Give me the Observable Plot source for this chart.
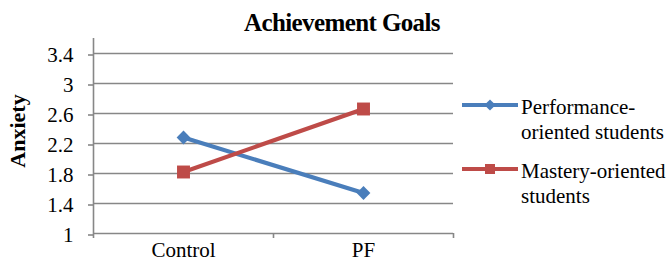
<!DOCTYPE html>
<html>
<head>
<meta charset="utf-8">
<script src="https://cdn.jsdelivr.net/npm/d3@7"></script>
<script src="https://cdn.jsdelivr.net/npm/@observablehq/plot@0.6"></script>
<style>
  html, body { margin: 0; padding: 0; background: #fff; }
  #chart { width: 669px; height: 269px; }
  #chart svg, #chart svg text { font-family: "Liberation Serif", "Times New Roman", serif !important; }
</style>
</head>
<body>
<div id="chart"></div>
<script>
const title = "Achievement Goals";
const yLabel = "Anxiety";
const categories = ["Control", "PF"];
const seriesNames = ["Performance-oriented students", "Mastery-oriented students"];
const legendLines = [["Performance-", "oriented students"], ["Mastery-oriented", "students"]];
const performance = [2.28, 1.54];
const mastery = [1.82, 2.66];
const yTicks = [1, 1.4, 1.8, 2.2, 2.6, 3, 3.4];
const colors = ["#4a7ebb", "#be4b48"];

const seriesValues = [performance, mastery];
const data = [];
seriesNames.forEach((s, k) => categories.forEach((c, i) => data.push({series: s, k, cat: c, i, value: seriesValues[k][i]})));

const grey = "#878787";

const plot = Plot.plot({
  width: 669, height: 269,
  marginTop: 38, marginBottom: 36, marginLeft: 93, marginRight: 216,
  style: {fontFamily: "Liberation Serif", fontSize: "21px", color: "#000", background: "#fff", overflow: "visible"},
  x: {type: "linear", domain: [-0.5, categories.length - 0.5]},
  y: {domain: [1, 3.6]},
  color: {domain: seriesNames, range: colors},
  marks: [
    Plot.ruleY(yTicks, {stroke: grey, strokeWidth: 1.6}),
    Plot.ruleX([-0.5], {stroke: grey, strokeWidth: 1.6}),
    Plot.axisY(yTicks, {tickSize: 5, tickPadding: 15, stroke: grey, strokeWidth: 1.6, fill: "#000", fontSize: 21, tickFormat: d => String(d), label: null, dy: 1.5}),
    Plot.axisX(d3.range(categories.length + 1).map(d => d - 0.5), {tickSize: 5, stroke: grey, strokeWidth: 1.6, tickFormat: () => "", label: null}),
    Plot.axisX(d3.range(categories.length), {tickSize: 0, tickPadding: 9, fill: "#000", fontSize: 21, tickFormat: i => categories[i], label: null}),
    Plot.line(data, {x: "i", y: "value", z: "series", stroke: "series", strokeWidth: 4.2}),
    Plot.dot(data.filter(d => d.k === 0), {x: "i", y: "value", symbol: () => "diamond2", r: 6.2, fill: "series", stroke: "none"}),
    Plot.dot(data.filter(d => d.k === 1), {x: "i", y: "value", symbol: () => "square", r: 7.3, fill: "series", stroke: "none"})
  ]
});

document.getElementById("chart").appendChild(plot);
const svg = d3.select(plot);

svg.append("text")
  .attr("x", 342).attr("y", 31)
  .style("text-anchor", "middle")
  .style("font-weight", "bold").style("font-size", "25px")
  .style("letter-spacing", "-0.6px")
  .attr("fill", "#000")
  .text(title);

svg.append("text")
  .attr("transform", "translate(25,131) rotate(-90)")
  .style("text-anchor", "middle")
  .style("font-weight", "bold").style("font-size", "22px")
  .attr("fill", "#000")
  .text(yLabel);

const legendY = [105, 169];
const legendSymbols = [d3.symbolDiamond2, d3.symbolSquare];
const legendSizes = [80, 100];
seriesNames.forEach((s, k) => {
  const g = svg.append("g");
  g.append("line").attr("x1", 462).attr("x2", 518).attr("y1", legendY[k]).attr("y2", legendY[k])
    .attr("stroke", colors[k]).attr("stroke-width", 4.2);
  g.append("path").attr("d", d3.symbol(legendSymbols[k], legendSizes[k])())
    .attr("transform", `translate(490,${legendY[k]})`).attr("fill", colors[k]);
  const t = g.append("text").style("font-size", "21px").style("text-anchor", "start").attr("fill", "#000");
  legendLines[k].forEach((line, j) => {
    t.append("tspan").attr("x", 521).attr("y", legendY[k] + 9 + j * 25).text(line);
  });
});
</script>
</body>
</html>
